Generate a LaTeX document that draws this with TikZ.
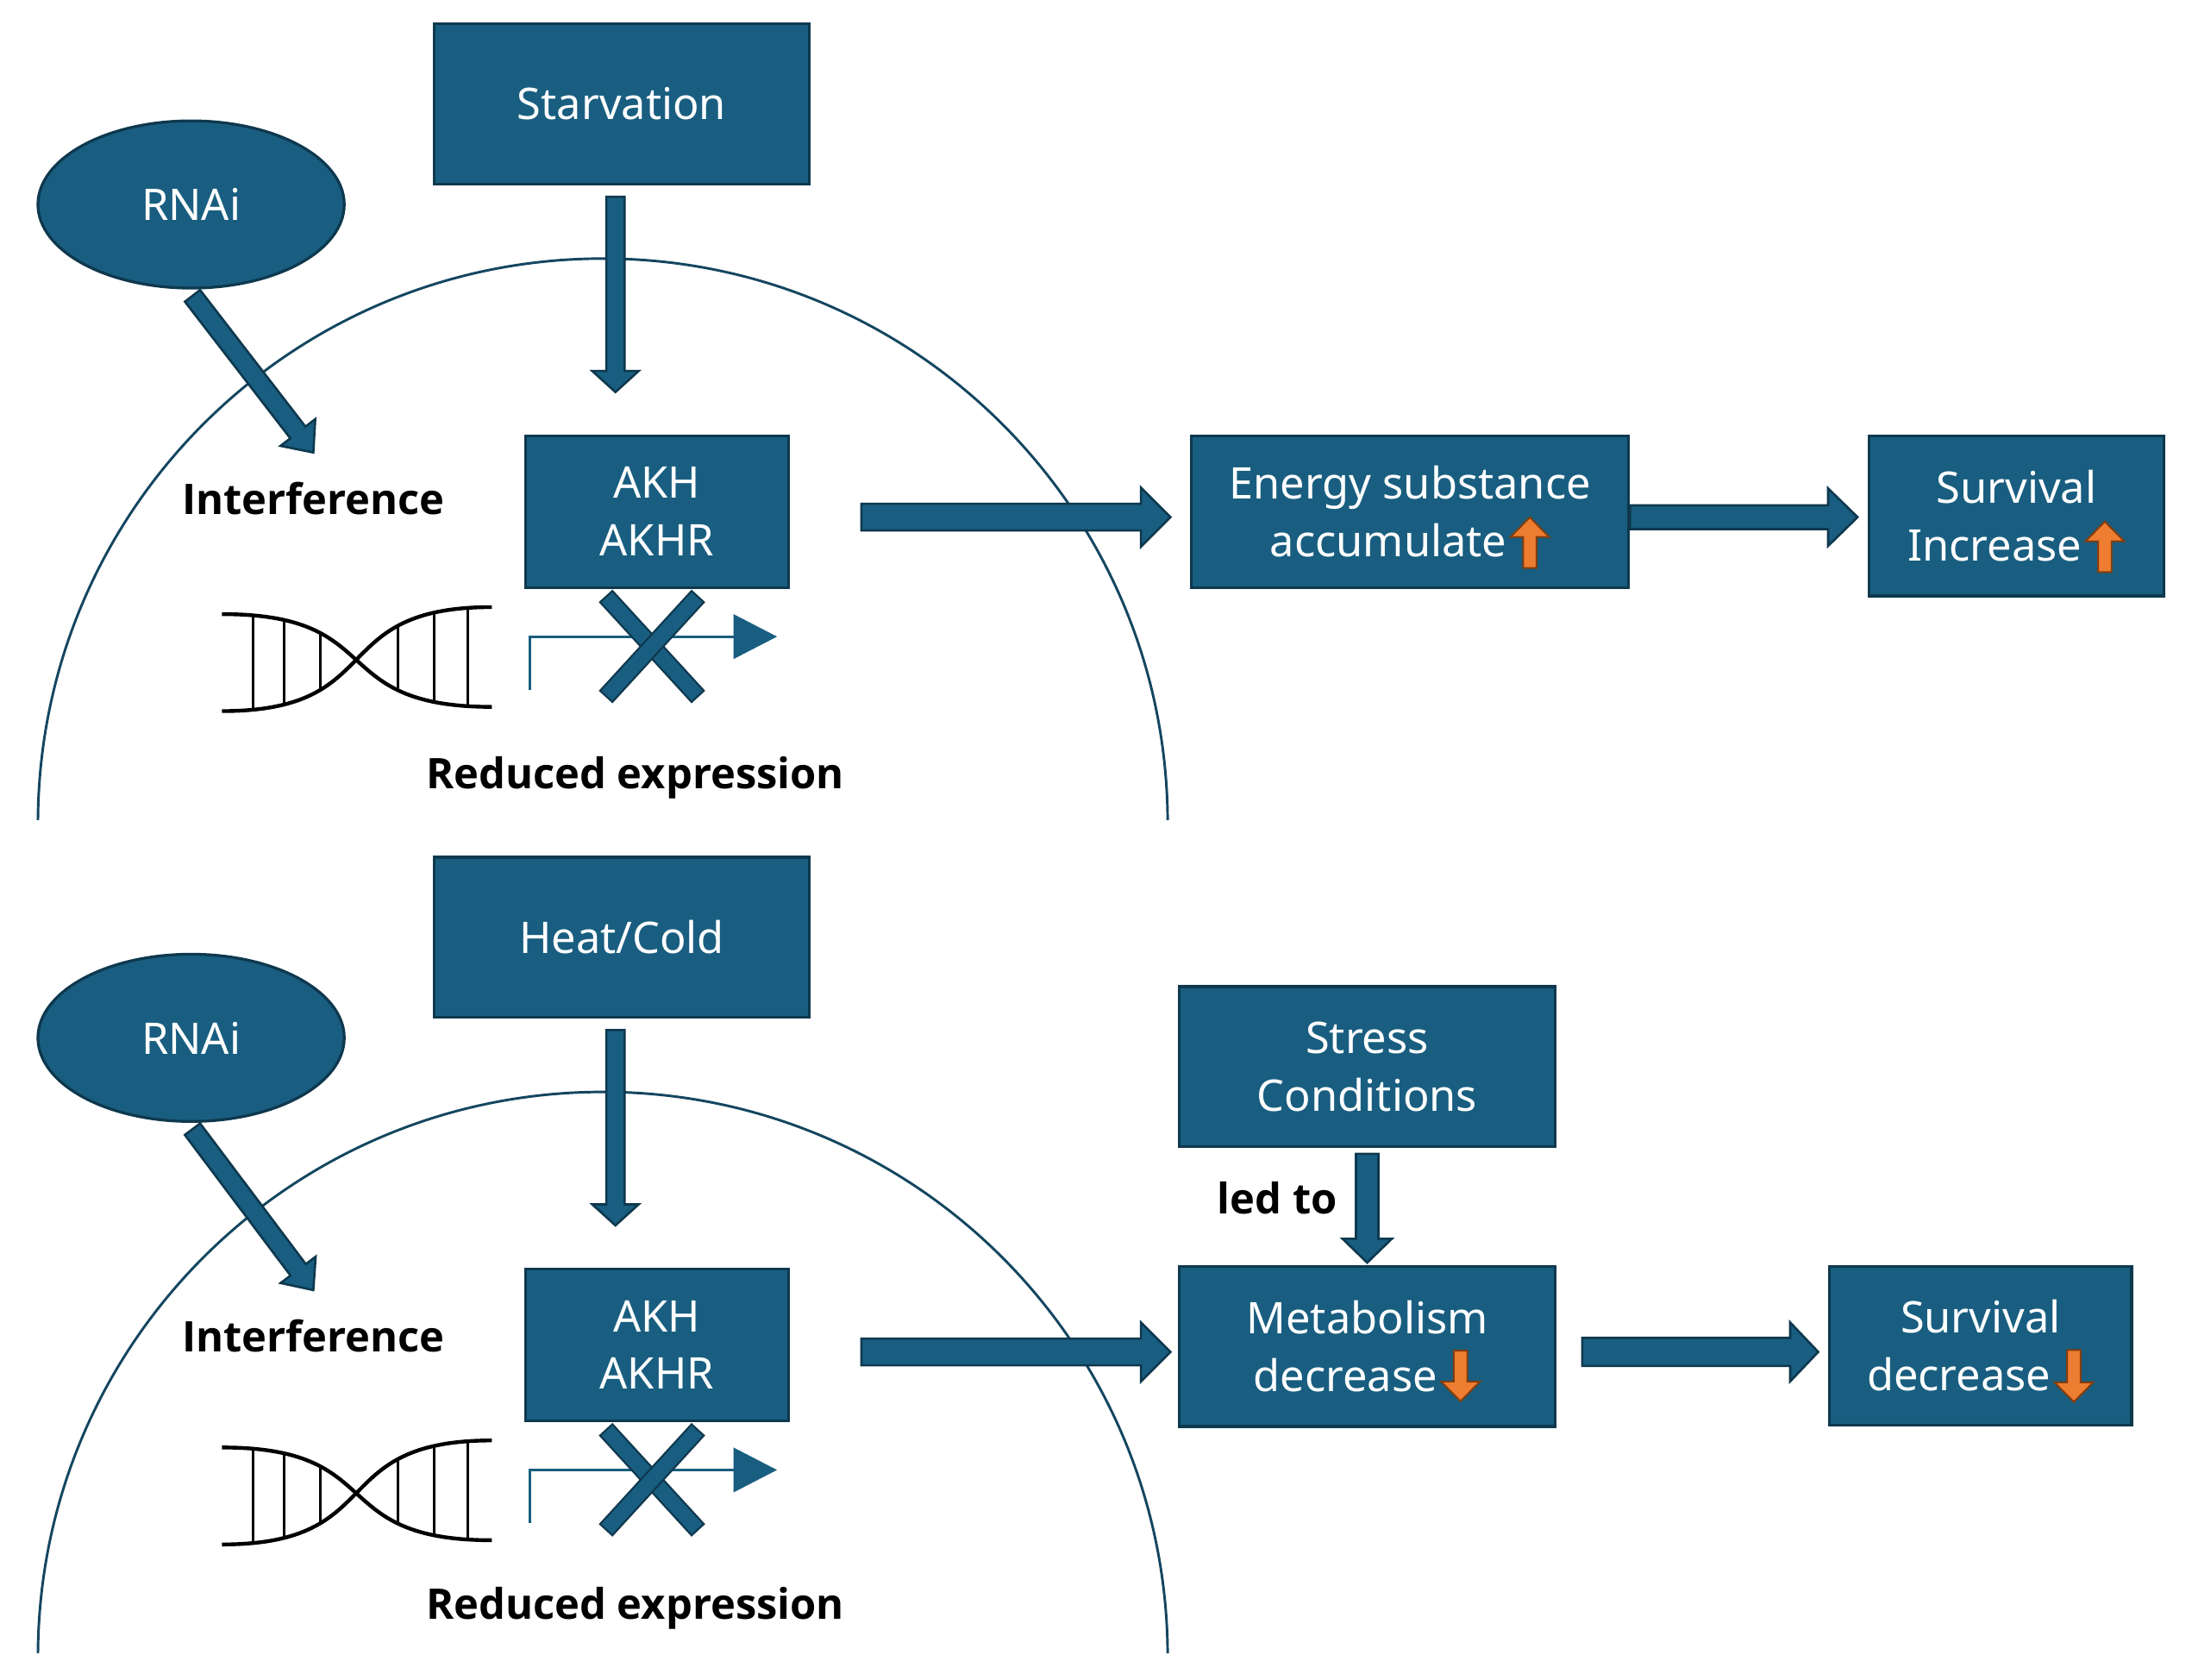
\documentclass[tikz,border=0pt]{standalone}
\usepackage{fontspec}
\setmainfont{Noto Sans}
\IfFontExistsTF{Open Sans Bold}
  {\newfontfamily\lblfont{Open Sans Bold}}
  {\IfFontExistsTF{Fira Sans Bold}
     {\newfontfamily\lblfont{Fira Sans Bold}}
     {\newfontfamily\lblfont{Lato Bold}}}
\usetikzlibrary{calc,shapes.geometric}
\definecolor{tealfill}{RGB}{25,94,128}
\definecolor{tealdark}{RGB}{14,56,78}
\definecolor{cellline}{RGB}{20,70,96}
\definecolor{orangef}{RGB}{237,125,49}
\definecolor{oranged}{RGB}{132,60,12}
\tikzset{
  box/.style={draw=tealdark, fill=tealfill, line width=1pt, text=white,
    font=\fontsize{15.5}{20.5}\selectfont, align=center, inner sep=0pt},
  oval/.style={box, ellipse},
  blockarr/.style={draw=tealdark, fill=tealfill, line width=0.8pt, line join=miter},
  lbl/.style={font=\lblfont\fontsize{15}{18}\selectfont, text=black, inner sep=0pt},
  orangearr/.style={draw=oranged, fill=orangef, line width=0.6pt},
  strand/.style={line width=1.35pt, black},
  rung/.style={line width=0.95pt, black},
  cell/.style={draw=cellline, line width=0.9pt},
  promoter/.style={draw=tealfill, line width=1pt},
}
\newcommand{\blockarrow}[5]{%
  \path ($(#2)!#5!(#1)$) coordinate (bh);
  \draw[blockarr] ($(#1)!#3!90:(#2)$) -- ($(bh)!#3!90:(#2)$) -- ($(bh)!#4!90:(#2)$) -- (#2)
    -- ($(bh)!#4!-90:(#2)$) -- ($(bh)!#3!-90:(#2)$) -- ($(#1)!#3!-90:(#2)$) -- cycle;}
\newcommand{\xbar}[2]{%
  \draw[line width=6.6pt, tealdark] (#1) -- (#2);
  \draw[line width=5.2pt, tealfill, shorten <=0.7pt, shorten >=0.7pt] (#1) -- (#2);}
% up arrow: shaft bottom -4, head base 7, tip 14
\newcommand{\oup}{\hspace{1pt}\smash{\tikz[baseline=0pt,x=1pt,y=1pt]\draw[orangearr]
  (-2.4,-4)--(2.4,-4)--(2.4,7)--(6.9,7)--(0,14)--(-6.9,7)--(-2.4,7)--cycle;}}
% down arrow: #1 shaft top, #2 tip, #3 head length
\newcommand{\odown}[3]{\hspace{1pt}\smash{\tikz[baseline=0pt,x=1pt,y=1pt]\draw[orangearr]
  (-2.4,#1)--(2.4,#1)--(2.4,#2+#3)--(6.9,#2+#3)--(0,#2)--(-6.9,#2+#3)--(-2.4,#2+#3)--cycle;}}
\newcommand{\dnahelix}{%
  \begin{scope}
    \clip (158,437) .. controls (277,437) and (231,503) .. (350,503) -- (350,432)
      .. controls (231,432) and (277,506) .. (158,506) -- cycle;
    \foreach \xx in {180,202,228,283,309,333} \draw[rung] (\xx,420) -- (\xx,520);
  \end{scope}
  \draw[strand] (158,437) .. controls (277,437) and (231,503) .. (350,503);
  \draw[strand] (158,506) .. controls (277,506) and (231,432) .. (350,432);}
\begin{document}
\begin{tikzpicture}[x=0.5pt,y=-0.5pt]
\fill[white] (0,0) rectangle (1560,1195);
\useasboundingbox (0,0) rectangle (1560,1195);

% ================= TOP PANEL =================
\begin{scope}
  \clip (0,0) rectangle (1560,583);
  \draw[cell] (429,586) circle [radius=201pt];
\end{scope}
\dnahelix
\coordinate (p1a) at (377,491);
\coordinate (p1b) at (377,453);
\coordinate (p1c) at (522,453);
\draw[promoter] (p1a) -- (p1b) -- (p1c);
\fill[tealfill] (522,437) -- (553,453) -- (522,469) -- cycle;

\node[box, minimum width=133.5pt, minimum height=57pt] (starv) at (442.5,74) {Starvation};
\node[oval, minimum width=109pt, minimum height=59.5pt] (rnai) at (136,145.5) {RNAi};
\node[box, minimum width=93.5pt, minimum height=54pt] (akh) at (467.5,364) {AKH\\AKHR};
\node[box, minimum width=155.5pt, minimum height=54pt] (energy) at (1003.5,364) {Energy substance\\accumulate\oup};
\node[box, minimum width=105pt, minimum height=57pt] (survi) at (1435,367) {Survival\\Increase\oup};
\node[lbl, anchor=base] (interf) at (223,366) {Interference};
\node[lbl, anchor=base] (redexp) at (452,561) {Reduced expression};

\xbar{431,424}{497,496}
\xbar{497,424}{431,496}

\coordinate (s1a) at ($(starv.south)+(-4.5,8)$);
\coordinate (s1b) at ($(akh.north)+(-29.5,-30)$);
\blockarrow{s1a}{s1b}{3.25pt}{8.25pt}{7.5pt}
\coordinate (r1a) at ($(rnai.south)+(1,4.5)$);
\coordinate (r1b) at ($(interf.base)+(0,-44)$);
\blockarrow{r1a}{r1b}{3.4pt}{7.8pt}{9pt}
\coordinate (h1a) at ($(akh.east)+(51,4)$);
\coordinate (h1b) at ($(energy.west)+(-14,4)$);
\blockarrow{h1a}{h1b}{4.75pt}{10.5pt}{10.5pt}
\coordinate (h2a) at ($(energy.east)+(0,4)$);
\coordinate (h2b) at ($(survi.west)+(-7,1)$);
\blockarrow{h2a}{h2b}{4.25pt}{10.25pt}{10.5pt}

% ================= BOTTOM PANEL =================
\begin{scope}
  \clip (0,590) rectangle (1560,1176);
  \draw[cell] (429,1179) circle [radius=201pt];
\end{scope}
\begin{scope}[shift={(0,593)}]
  \dnahelix
  \coordinate (p2a) at (377,491);
  \coordinate (p2b) at (377,453);
  \coordinate (p2c) at (522,453);
  \draw[promoter] (p2a) -- (p2b) -- (p2c);
  \fill[tealfill] (522,437) -- (553,453) -- (522,469) -- cycle;
\end{scope}

\node[box, minimum width=133.5pt, minimum height=57pt] (heat) at (442.5,667) {Heat/Cold};
\node[oval, minimum width=109pt, minimum height=59.5pt] (rnai2) at (136,738.5) {RNAi};
\node[box, minimum width=93.5pt, minimum height=54pt] (akh2) at (467.5,957) {AKH\\AKHR};
\node[box, minimum width=134pt, minimum height=57pt] (stress) at (973,759) {Stress\\Conditions};
\node[box, minimum width=134pt, minimum height=57pt] (metab) at (973,958) {Metabolism\\decrease\odown{14.5}{-3.5}{7}};
\node[box, minimum width=107.5pt, minimum height=56.5pt] (survd) at (1409.5,957.5) {Survival\\decrease\odown{14.5}{-4}{7}};
\node[lbl, anchor=base] (interf2) at (223,962) {Interference};
\node[lbl, anchor=base] (redexp2) at (452,1152) {Reduced expression};
\node[lbl, anchor=base] (ledto) at (909,864) {led to};

\xbar{431,1017}{497,1089}
\xbar{497,1017}{431,1089}

\coordinate (s2a) at ($(heat.south)+(-4.5,8)$);
\coordinate (s2b) at ($(akh2.north)+(-29.5,-30)$);
\blockarrow{s2a}{s2b}{3.25pt}{8.25pt}{7.5pt}
\coordinate (r2a) at ($(rnai2.south)+(1,4.5)$);
\coordinate (r2b) at ($(interf2.base)+(0,-44)$);
\blockarrow{r2a}{r2b}{3.4pt}{7.8pt}{9pt}
\coordinate (h3a) at ($(akh2.east)+(51,5)$);
\coordinate (h3b) at ($(metab.west)+(-5,4)$);
\blockarrow{h3a}{h3b}{4.75pt}{10.5pt}{10.5pt}
\coordinate (v3a) at ($(stress.south)+(0,4)$);
\coordinate (v3b) at ($(metab.north)+(0,-1.5)$);
\blockarrow{v3a}{v3b}{4pt}{8.75pt}{8.5pt}
\coordinate (h4a) at ($(metab.east)+(18,4)$);
\coordinate (h4b) at ($(survd.west)+(-7,4.5)$);
\blockarrow{h4a}{h4b}{5pt}{10.5pt}{10pt}
\end{tikzpicture}
\end{document}
